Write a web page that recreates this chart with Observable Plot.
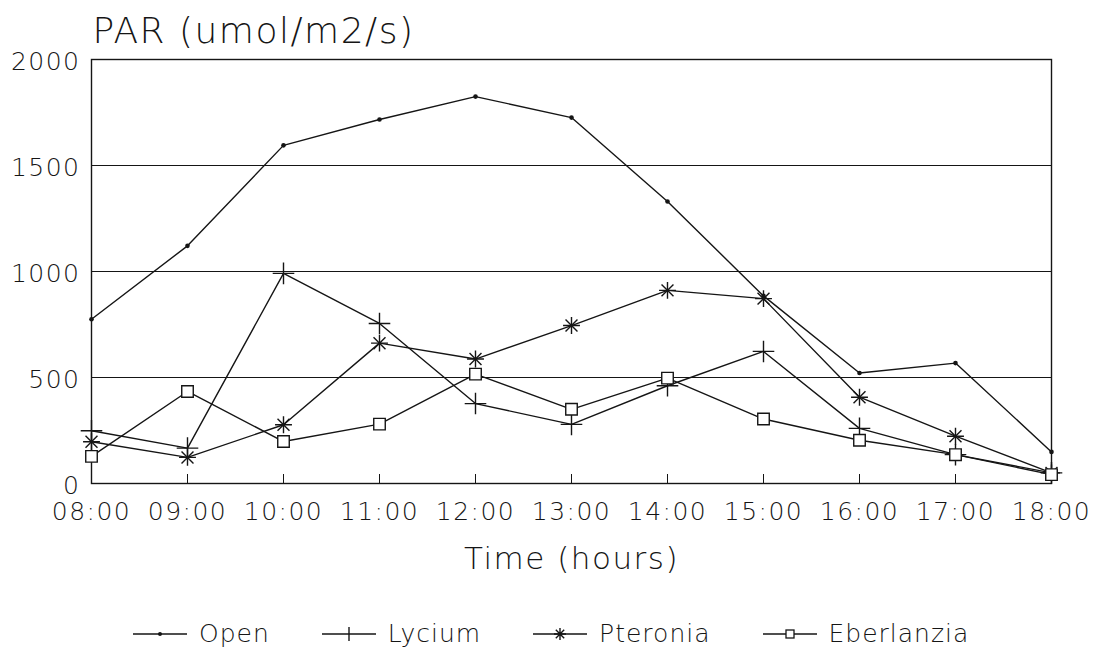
<!DOCTYPE html>
<html>
<head>
<meta charset="utf-8">
<script src="https://cdn.jsdelivr.net/npm/d3@7"></script>
<script src="https://cdn.jsdelivr.net/npm/@observablehq/plot@0.6"></script>
<style>
  html, body { margin: 0; padding: 0; background: #fff; }
  body { width: 1095px; height: 655px; overflow: hidden; font-family: "DejaVu Sans", sans-serif; font-weight: 200; color: #151515; }
  #legend { display: flex; align-items: center; height: 55px; padding-left: 133px; box-sizing: border-box; padding-top: 12px; }
  .item { display: flex; align-items: center; margin-right: 52px; }
  .item svg { display: block; margin-right: 12px; }
  .item span { font-size: 25px; letter-spacing: 1px; line-height: 1; font-weight: 200; }
</style>
</head>
<body>
<div id="chart"></div>
<div id="legend"></div>
<script>
const hours = ["08:00","09:00","10:00","11:00","12:00","13:00","14:00","15:00","16:00","17:00","18:00"];
const openVals = [775, 1121, 1595, 1717, 1825, 1726, 1330, 885, 521, 568, 149];
const lyciumVals = [249, 167, 991, 755, 377, 279, 461, 623, 260, 136, 50];
const pteroniaVals = [197, 123, 277, 662, 587, 745, 911, 872, 407, 223, 50];
const eberlanziaVals = [128, 434, 198, 280, 516, 350, 497, 304, 204, 136, 42];
const seriesNames = ["Open", "Lycium", "Pteronia", "Eberlanzia"];
const yTicks = [0, 500, 1000, 1500, 2000];
const titleText = "PAR (umol/m2/s)";
const xTitle = "Time (hours)";

const INK = "#151515";
const rows = (vals) => hours.map((h, i) => ({hour: h, value: vals[i]}));
const open = rows(openVals), lycium = rows(lyciumVals), pteronia = rows(pteroniaVals), eber = rows(eberlanziaVals);

const lineOpts = {x: "hour", y: "value", stroke: INK, strokeWidth: 1.4};

const chart = Plot.plot({
  width: 1095,
  height: 600,
  marginLeft: 91,
  marginRight: 44,
  marginTop: 59,
  marginBottom: 117,
  style: {fontFamily: "DejaVu Sans, sans-serif", fontWeight: 200, fontSize: "25px", letterSpacing: "1.5px", color: INK, background: "#fff"},
  x: {type: "point", domain: hours, padding: 0},
  y: {domain: [0, 2000], ticks: yTicks},
  marks: [
    Plot.gridY(yTicks, {stroke: INK, strokeOpacity: 1, strokeWidth: 1}),
    Plot.frame({stroke: INK, strokeWidth: 1.4}),
    Plot.axisY(yTicks, {tickSize: 0, tickPadding: 11, tickFormat: d => String(d), fill: INK, dy: 2, label: null}),
    Plot.axisX({tickSize: 9, dy: -9, tickFormat: () => "", stroke: INK, label: null}),
    Plot.axisX({tickSize: 0, tickPadding: 19, fill: INK, label: null}),
    Plot.text([titleText], {frameAnchor: "top-left", text: d => d, textAnchor: "start", lineAnchor: "bottom", dy: -17, dx: 1, fontSize: 36, fill: INK}),
    Plot.text([xTitle], {frameAnchor: "bottom", text: d => d, lineAnchor: "bottom", dy: 85, fontSize: 31, fill: INK, style: "letter-spacing:0.8px"}),
    Plot.line(open, lineOpts),
    Plot.line(lycium, lineOpts),
    Plot.line(pteronia, lineOpts),
    Plot.line(eber, lineOpts),
    Plot.dot(open, {x: "hour", y: "value", r: 2.3, fill: INK}),
    Plot.dot(lycium, {x: "hour", y: "value", symbol: "plus", r: 7, stroke: INK, strokeWidth: 1.4}),
    Plot.dot(pteronia, {x: "hour", y: "value", symbol: "plus", r: 5.5, stroke: INK, strokeWidth: 1.4}),
    Plot.dot(pteronia, {x: "hour", y: "value", symbol: "times", r: 5.5, stroke: INK, strokeWidth: 1.4}),
    Plot.dot(eber, {x: "hour", y: "value", symbol: "square", r: 6.5, stroke: INK, fill: "#fff", strokeWidth: 1.4})
  ]
});
document.getElementById("chart").appendChild(chart);

// Legend
const glyphs = {
  Open: '<circle cx="27" cy="10" r="2" fill="' + INK + '"/>',
  Lycium: '<path d="M27 3V17" stroke="' + INK + '" stroke-width="1.4"/>',
  Pteronia: '<path d="M27 4V16M21 10H33M22.8 5.8L31.2 14.2M31.2 5.8L22.8 14.2" stroke="' + INK + '" stroke-width="1.4"/>',
  Eberlanzia: '<rect x="23" y="6" width="8" height="8" fill="#fff" stroke="' + INK + '" stroke-width="1.3"/>'
};
const legend = document.getElementById("legend");
seriesNames.forEach(name => {
  const item = document.createElement("div");
  item.className = "item";
  item.innerHTML = '<svg width="54" height="20" viewBox="0 0 54 20"><path d="M0 10H54" stroke="' + INK + '" stroke-width="1.4"/>' + glyphs[name] + '</svg><span>' + name + '</span>';
  legend.appendChild(item);
});
</script>
</body>
</html>
